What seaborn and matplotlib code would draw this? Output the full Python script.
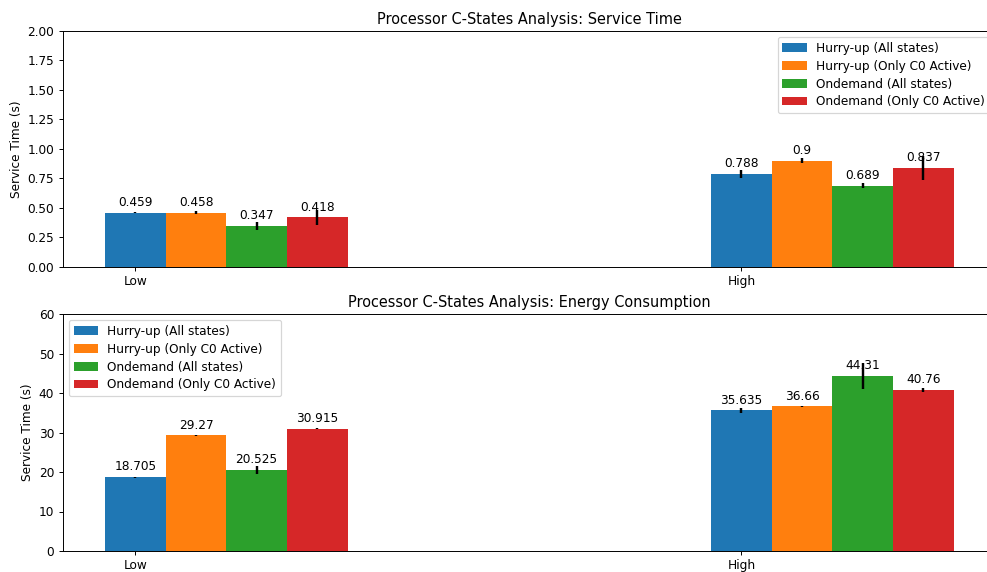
import matplotlib
matplotlib.use("Agg")
import matplotlib.pyplot as plt
import seaborn as sns
import pandas as pd

loads = ["Low", "High"]
governors = ["Hurry-up (All states)", "Hurry-up (Only C0 Active)",
             "Ondemand (All states)", "Ondemand (Only C0 Active)"]

service_time = {
    "Hurry-up (All states)": [0.459, 0.788],
    "Hurry-up (Only C0 Active)": [0.458, 0.9],
    "Ondemand (All states)": [0.347, 0.689],
    "Ondemand (Only C0 Active)": [0.418, 0.837],
}
service_err = {
    "Hurry-up (All states)": [0.004, 0.035],
    "Hurry-up (Only C0 Active)": [0.015, 0.024],
    "Ondemand (All states)": [0.032, 0.017],
    "Ondemand (Only C0 Active)": [0.066, 0.105],
}
energy = {
    "Hurry-up (All states)": [18.705, 35.635],
    "Hurry-up (Only C0 Active)": [29.27, 36.66],
    "Ondemand (All states)": [20.525, 44.31],
    "Ondemand (Only C0 Active)": [30.915, 40.76],
}
energy_err = {
    "Hurry-up (All states)": [0.1, 0.68],
    "Hurry-up (Only C0 Active)": [0.1, 0.1],
    "Ondemand (All states)": [0.94, 3.2],
    "Ondemand (Only C0 Active)": [0.1, 0.43],
}

service_ticks = [0, 0.25, 0.5, 0.75, 1.0, 1.25, 1.5, 1.75, 2.0]
energy_ticks = [0, 10, 20, 30, 40, 50, 60]

palette = ["#1f77b4", "#ff7f0e", "#2ca02c", "#d62728"]

DPI = 87
W, H = 987, 572


def to_frame(values):
    rows = []
    for g in governors:
        for load, v in zip(loads, values[g]):
            rows.append({"load": load, "governor": g, "value": v})
    return pd.DataFrame(rows)


def draw(ax, values, errors, title, yticks, legend_loc, fmt):
    df = to_frame(values)
    sns.barplot(data=df, x="load", y="value", hue="governor", order=loads,
                hue_order=governors, palette=palette, width=0.4,
                errorbar=None, saturation=1, ax=ax)
    for g, container in zip(governors, ax.containers):
        xs = [p.get_x() + p.get_width() / 2 for p in container.patches]
        hs = [p.get_height() for p in container.patches]
        ax.errorbar(xs, hs, yerr=errors[g], fmt="none", ecolor="black",
                    elinewidth=2, capsize=0, zorder=3)
        for x, h in zip(xs, hs):
            ax.annotate(f"{h:g}", xy=(x, h), xytext=(0, 3),
                        textcoords="offset points", ha="center", va="bottom")
    first = [p.get_x() + p.get_width() / 2 for p in ax.containers[0].patches]
    ax.set_xticks(first)
    ax.set_xticklabels(loads)
    ax.set_xlim(first[0] - 0.12, first[1] + 0.42)
    ax.set_ylim(yticks[0], yticks[-1])
    ax.set_yticks(yticks)
    ax.set_yticklabels([fmt.format(v) for v in yticks])
    ax.set_xlabel("")
    ax.set_ylabel("Service Time (s)")
    ax.set_title(title)
    ax.legend(loc=legend_loc, labelspacing=0.4)


fig = plt.figure(figsize=(W / DPI, H / DPI), dpi=DPI)
left = 62.7 / W
width = (996 - 62.7) / W
ax1 = fig.add_axes([left, 1 - 266.7 / H, width, (266.7 - 31) / H])
ax2 = fig.add_axes([left, 1 - 551 / H, width, (551 - 314) / H])

draw(ax1, service_time, service_err, "Processor C-States Analysis: Service Time",
     service_ticks, "upper right", "{:.2f}")
draw(ax2, energy, energy_err, "Processor C-States Analysis: Energy Consumption",
     energy_ticks, "upper left", "{:g}")

fig.savefig("out.png", dpi=DPI)
